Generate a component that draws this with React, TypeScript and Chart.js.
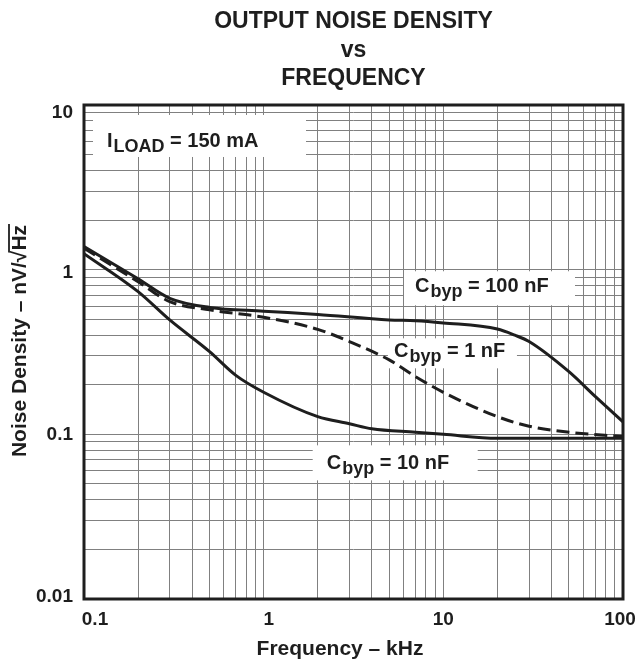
import React, { useEffect, useRef } from 'react';
import { Chart, registerables } from 'chart.js';
Chart.register(...registerables);

// ---- data ----
const freq100nF = [0.1, 0.2, 0.3, 0.5, 1, 2, 5, 7, 10, 20, 25, 30, 50, 70, 100];
const noise100nF = [1.38, 0.88, 0.67, 0.59, 0.56, 0.535, 0.495, 0.49, 0.475, 0.436, 0.4, 0.366, 0.24, 0.17, 0.119];

const freq1nF = [0.1, 0.2, 0.3, 0.5, 1, 2, 3, 5, 7, 10, 20, 30, 50, 100];
const noise1nF = [1.35, 0.845, 0.64, 0.57, 0.514, 0.434, 0.366, 0.283, 0.224, 0.18, 0.128, 0.112, 0.103, 0.097];

const freq10nF = [0.1, 0.2, 0.3, 0.5, 0.7, 1, 2, 3, 4, 7, 10, 20, 100];
const noise10nF = [1.25, 0.735, 0.495, 0.318, 0.228, 0.18, 0.128, 0.116, 0.108, 0.103, 0.1, 0.0946, 0.0946];

const xGridValues = [0.1, 0.2, 0.3, 0.4, 0.5, 0.6, 0.7, 0.8, 0.9, 1, 2, 3, 4, 5, 6, 7, 8, 9, 10, 20, 30, 40, 50, 60, 70, 80, 90, 100];
const yGridValues = [0.01, 0.02, 0.03, 0.04, 0.05, 0.06, 0.07, 0.08, 0.09, 0.1, 0.2, 0.3, 0.4, 0.5, 0.6, 0.7, 0.8, 0.9, 1, 2, 3, 4, 5, 6, 7, 8, 9, 10];
const xMajorValues = [0.1, 1, 10, 100];
const xMajorLabels = ['0.1', '1', '10', '100'];
const yMajorValues = [0.01, 0.1, 1, 10];
const yMajorLabels = ['0.01', '0.1', '1', '10'];

const titleLines = ['OUTPUT NOISE DENSITY', 'vs', 'FREQUENCY'];
const xAxisTitle = 'Frequency \u2013 kHz';
const yAxisTitleMain = 'Noise Density \u2013 nV/\u221A';
const yAxisTitleUnder = 'Hz';

const labelMain = ['I', 'C', 'C', 'C'];
const labelSub = ['LOAD', 'byp', 'byp', 'byp'];
const labelRest = [' = 150 mA', ' = 100 nF', ' = 1 nF', ' = 10 nF'];
const labelAnchorX = [0.1343, 6.955, 5.31, 2.243];
const labelAnchorY = [5.56, 0.729, 0.2936, 0.0613];

// ---- styling / layout (not data) ----
const FONT = '"Liberation Sans", Arial, Helvetica, sans-serif';
const INK = '#1e1e1e';
const GRID = '#808080';
// box offsets relative to text anchor [left, right, top, bottom]
const boxOffsets = [
  [-14, 199, -32, 10],
  [-11, 160, -21, 13],
  [-6, 123, -19, 11],
  [-14, 151, -24, 11],
];
const xLabelShift = [11, 5, 0, -3];
const yLabelShift = [-2.5, 0.5, 3.5, 8];

function pts(xs: number[], ys: number[]) {
  return xs.map((x, i) => ({ x, y: ys[i] }));
}

const decorPlugin = {
  id: 'decor',
  beforeDatasetsDraw(chart: any) {
    const ctx = chart.ctx;
    const xs = chart.scales.x;
    const ys = chart.scales.y;
    ctx.save();
    for (let i = 0; i < labelMain.length; i++) {
      const ax = xs.getPixelForValue(labelAnchorX[i]);
      const ay = ys.getPixelForValue(labelAnchorY[i]);
      const b = boxOffsets[i];
      ctx.fillStyle = '#ffffff';
      ctx.fillRect(ax + b[0], ay + b[2], b[1] - b[0], b[3] - b[2]);
      ctx.fillStyle = INK;
      ctx.textBaseline = 'alphabetic';
      ctx.textAlign = 'left';
      ctx.font = `bold 20px ${FONT}`;
      ctx.fillText(labelMain[i], ax, ay);
      let x = ax + ctx.measureText(labelMain[i]).width + 1;
      ctx.font = `bold 18px ${FONT}`;
      ctx.fillText(labelSub[i], x, ay + 5);
      x += ctx.measureText(labelSub[i]).width;
      ctx.font = `bold 20px ${FONT}`;
      ctx.fillText(labelRest[i], x, ay);
    }
    ctx.restore();
  },
  afterDraw(chart: any) {
    const ctx = chart.ctx;
    const a = chart.chartArea;
    const xs = chart.scales.x;
    const ys = chart.scales.y;
    ctx.save();
    ctx.strokeStyle = INK;
    ctx.lineWidth = 3;
    ctx.strokeRect(a.left, a.top, a.right - a.left, a.bottom - a.top);

    ctx.fillStyle = INK;
    // tick labels
    ctx.font = `bold 19px ${FONT}`;
    ctx.textAlign = 'center';
    ctx.textBaseline = 'alphabetic';
    xMajorValues.forEach((v, i) => {
      ctx.fillText(xMajorLabels[i], xs.getPixelForValue(v) + xLabelShift[i], a.bottom + 26);
    });
    ctx.textAlign = 'right';
    ctx.textBaseline = 'middle';
    yMajorValues.forEach((v, i) => {
      ctx.fillText(yMajorLabels[i], a.left - 11, ys.getPixelForValue(v) + yLabelShift[i]);
    });

    // title
    const cx = (a.left + a.right) / 2;
    ctx.textAlign = 'center';
    ctx.textBaseline = 'alphabetic';
    ctx.font = `bold 23px ${FONT}`;
    titleLines.forEach((t, i) => ctx.fillText(t, cx, 28 + i * 28.5));

    // x axis title
    ctx.font = `bold 21px ${FONT}`;
    ctx.fillText(xAxisTitle, 340, 655);

    // y axis title, rotated
    ctx.translate(26, 341);
    ctx.rotate(-Math.PI / 2);
    const wMain = ctx.measureText(yAxisTitleMain).width;
    const wUnder = ctx.measureText(yAxisTitleUnder).width;
    const total = wMain + wUnder;
    ctx.textAlign = 'left';
    ctx.fillText(yAxisTitleMain, -total / 2, 0);
    ctx.fillText(yAxisTitleUnder, -total / 2 + wMain, 0);
    ctx.beginPath();
    ctx.lineWidth = 1.8;
    ctx.moveTo(-total / 2 + wMain - 2, -17);
    ctx.lineTo(-total / 2 + total + 1, -17);
    ctx.stroke();
    ctx.restore();
  },
};

export default function App() {
  const ref = useRef<HTMLCanvasElement>(null);
  useEffect(() => {
    const canvas = ref.current!;
    const lineBase = {
      borderColor: INK,
      borderWidth: 3,
      pointRadius: 0,
      cubicInterpolationMode: 'monotone',
      fill: false,
    };
    const chart = new Chart(canvas, {
      type: 'line',
      data: {
        datasets: [
          { ...lineBase, label: 'Cbyp = 100 nF', data: pts(freq100nF, noise100nF) },
          { ...lineBase, label: 'Cbyp = 1 nF', data: pts(freq1nF, noise1nF), borderDash: [13, 6] },
          { ...lineBase, label: 'Cbyp = 10 nF', data: pts(freq10nF, noise10nF) },
        ],
      },
      options: {
        responsive: false,
        animation: false,
        devicePixelRatio: 1,
        layout: { padding: { left: 0, right: 16, top: 105, bottom: 0 }, autoPadding: false },
        plugins: { legend: { display: false }, tooltip: { enabled: false }, title: { display: false } },
        scales: {
          x: {
            type: 'logarithmic',
            min: 0.1,
            max: 100,
            afterBuildTicks: (s: any) => { s.ticks = xGridValues.map((v) => ({ value: v })); },
            afterFit: (s: any) => { s.height = 65; s.paddingLeft = 0; s.paddingRight = 0; },
            ticks: { autoSkip: false, maxRotation: 0, callback: () => '' },
            grid: { color: GRID, lineWidth: 1, drawTicks: false },
            border: { display: false },
          },
          y: {
            type: 'logarithmic',
            min: 0.01,
            max: 10,
            afterBuildTicks: (s: any) => { s.ticks = yGridValues.map((v) => ({ value: v })); },
            afterFit: (s: any) => { s.width = 84; s.paddingTop = 0; s.paddingBottom = 0; },
            ticks: { autoSkip: false, callback: () => '' },
            grid: { color: GRID, lineWidth: 1, drawTicks: false },
            border: { display: false },
          },
        },
      } as any,
      plugins: [decorPlugin],
    });
    return () => chart.destroy();
  }, []);
  return (
    <div style={{ position: 'absolute', left: 0, top: 0, width: 639, height: 664, background: '#fff' }}>
      <canvas ref={ref} width={639} height={664} style={{ display: 'block', width: 639, height: 664 }} />
    </div>
  );
}
